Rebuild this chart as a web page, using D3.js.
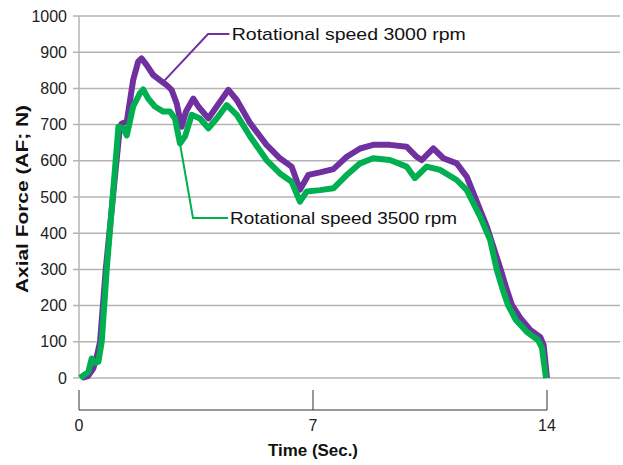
<!DOCTYPE html>
<html>
<head>
<meta charset="utf-8">
<script src="https://cdn.jsdelivr.net/npm/d3@7"></script>
<style>
  body { margin: 0; background: #fff; }
  svg { display: block; font-family: "Liberation Sans", Arial, sans-serif; }
</style>
</head>
<body>
<div class="container"></div>
<script>
/* Data */
// Rotational speed 3000 rpm
const time3000 = [0.09, 0.27, 0.43, 0.53, 0.63, 0.80, 1.22, 1.28, 1.43, 1.62, 1.77, 1.87, 2.02, 2.22, 2.42, 2.62, 2.77, 2.92, 3.07, 3.20, 3.42, 3.57, 3.87, 4.12, 4.47, 4.72, 5.12, 5.61, 6.01, 6.36, 6.61, 6.86, 7.21, 7.61, 8.01, 8.41, 8.80, 9.30, 9.80, 10.10, 10.25, 10.60, 10.90, 11.30, 11.60, 12.20, 12.62, 12.80, 12.95, 13.20, 13.50, 13.80, 13.90, 14.00];
const force3000 = [0, 5, 27, 59, 100, 300, 690, 703, 708, 823, 874, 883, 865, 837, 823, 809, 796, 759, 694, 736, 772, 750, 717, 750, 796, 768, 704, 644, 607, 584, 520, 561, 568, 577, 611, 634, 644, 644, 639, 611, 602, 634, 607, 593, 556, 418, 298, 243, 202, 166, 133, 113, 91, 0];
// Rotational speed 3500 rpm
const time3500 = [0.03, 0.28, 0.38, 0.48, 0.58, 0.68, 0.83, 1.18, 1.33, 1.43, 1.62, 1.82, 1.92, 2.07, 2.27, 2.52, 2.72, 2.87, 3.02, 3.17, 3.37, 3.62, 3.87, 4.12, 4.42, 4.72, 5.12, 5.61, 6.01, 6.36, 6.61, 6.81, 7.21, 7.61, 8.00, 8.41, 8.80, 9.30, 9.80, 10.05, 10.40, 10.80, 11.30, 11.60, 12.00, 12.30, 12.50, 12.68, 12.83, 13.07, 13.40, 13.73, 13.85, 13.97];
const force3500 = [0, 17, 54, 42, 45, 100, 300, 694, 690, 670, 750, 786, 797, 772, 750, 736, 736, 717, 648, 667, 727, 717, 690, 717, 754, 727, 667, 602, 565, 542, 487, 515, 519, 524, 560, 593, 607, 602, 584, 552, 584, 575, 547, 519, 446, 381, 298, 243, 202, 160, 127, 105, 83, 0];

const yTicks = [0, 100, 200, 300, 400, 500, 600, 700, 800, 900, 1000];
const xTicks = [0, 7, 14];
const labels = ['Rotational speed  3000 rpm', 'Rotational speed 3500 rpm'];

/* Layout */
const width = 623;
const height = 465;
const purple = '#7030a0';
const green = '#00b050';
const grid = '#b4b4b4';

const x = d3.scaleLinear().domain([0, 14]).range([79, 547]);
const y = d3.scaleLinear().domain([0, 1000]).range([378, 16]);

const svg = d3.select('.container')
    .append('svg')
    .attr('width', width)
    .attr('height', height);

// Horizontal gridlines
svg.selectAll('.grid')
    .data(yTicks)
    .enter()
    .append('line')
    .attr('class', 'grid')
    .attr('x1', 73)
    .attr('x2', 620)
    .attr('y1', d => y(d))
    .attr('y2', d => y(d))
    .attr('stroke', grid)
    .attr('stroke-width', 1.5);

// Y axis line
svg.append('line')
    .attr('x1', x(0)).attr('x2', x(0))
    .attr('y1', y(1000)).attr('y2', y(0))
    .attr('stroke', grid)
    .attr('stroke-width', 1.5);

svg.selectAll('.ylab')
    .data(yTicks)
    .enter()
    .append('text')
    .attr('class', 'ylab')
    .attr('x', 67)
    .attr('y', d => y(d))
    .attr('dy', '0.35em')
    .attr('text-anchor', 'end')
    .attr('font-size', 16)
    .attr('fill', '#222')
    .text(d => d);

// Y title
svg.append('text')
    .attr('transform', `translate(28, ${(y(0) + y(1000)) / 2 + 2}) rotate(-90)`)
    .attr('text-anchor', 'middle')
    .attr('font-size', 17)
    .attr('font-weight', 'bold')
    .attr('textLength', 188)
    .attr('lengthAdjust', 'spacingAndGlyphs')
    .attr('fill', '#111')
    .text('Axial Force (AF; N)');

// Separate time axis below the plot
const axisY = 410;
svg.append('line')
    .attr('x1', x(0)).attr('x2', x(14))
    .attr('y1', axisY).attr('y2', axisY)
    .attr('stroke', '#333')
    .attr('stroke-width', 1);
svg.selectAll('.xtick')
    .data(xTicks)
    .enter()
    .append('line')
    .attr('class', 'xtick')
    .attr('x1', d => x(d)).attr('x2', d => x(d))
    .attr('y1', axisY).attr('y2', axisY - 20)
    .attr('stroke', '#333')
    .attr('stroke-width', 1);
svg.selectAll('.xlab')
    .data(xTicks)
    .enter()
    .append('text')
    .attr('class', 'xlab')
    .attr('x', d => x(d))
    .attr('y', 431)
    .attr('text-anchor', 'middle')
    .attr('font-size', 16)
    .attr('fill', '#222')
    .text(d => d);
svg.append('text')
    .attr('x', x(7))
    .attr('y', 456)
    .attr('text-anchor', 'middle')
    .attr('font-size', 17)
    .attr('font-weight', 'bold')
    .attr('textLength', 90)
    .attr('lengthAdjust', 'spacingAndGlyphs')
    .attr('fill', '#111')
    .text('Time (Sec.)');

// Curves
const line = d3.line()
    .x(d => x(d[0]))
    .y(d => y(d[1]));

const series = [
    { color: purple, pts: d3.zip(time3000, force3000) },
    { color: green, pts: d3.zip(time3500, force3500) }
];

svg.selectAll('.curve')
    .data(series)
    .enter()
    .append('path')
    .attr('class', 'curve')
    .attr('d', d => line(d.pts))
    .attr('fill', 'none')
    .attr('stroke', d => d.color)
    .attr('stroke-width', 6)
    .attr('stroke-linejoin', 'round');

// Callouts (in data units: from curve point, elbow, to text)
const callouts = [
    { color: purple, path: [[2.52, 818], [3.86, 950], [4.5, 950]], text: labels[0], at: [4.57, 950], len: 234 },
    { color: green, path: [[3.02, 648], [3.41, 442], [4.46, 442]], text: labels[1], at: [4.52, 442], len: 227 }
];

svg.selectAll('.leader')
    .data(callouts)
    .enter()
    .append('path')
    .attr('class', 'leader')
    .attr('d', d => line(d.path))
    .attr('fill', 'none')
    .attr('stroke', d => d.color)
    .attr('stroke-width', 2);

svg.selectAll('.note')
    .data(callouts)
    .enter()
    .append('text')
    .attr('class', 'note')
    .attr('x', d => x(d.at[0]))
    .attr('y', d => y(d.at[1]))
    .attr('dy', '0.35em')
    .attr('font-size', 17)
    .attr('textLength', d => d.len)
    .attr('lengthAdjust', 'spacingAndGlyphs')
    .attr('fill', '#111')
    .text(d => d.text);
</script>
</body>
</html>
